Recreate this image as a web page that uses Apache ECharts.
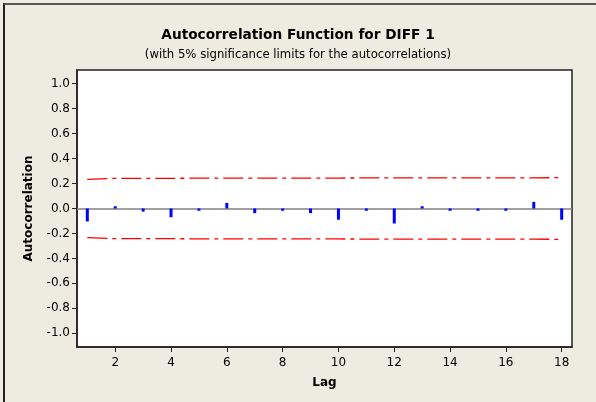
<!DOCTYPE html>
<html>
<head>
<meta charset="utf-8">
<script src="https://cdn.jsdelivr.net/npm/echarts@6/dist/echarts.min.js"></script>
<style>
  html, body { margin: 0; padding: 0; background: #eeebe1; overflow: hidden; }
  #frame {
    position: absolute; left: 3px; top: 3px; width: 610px; height: 410px;
    border-top: 2px solid #555; border-left: 2px solid #222; box-sizing: border-box;
  }
  #chart { position: absolute; left: 0; top: 0; width: 596px; height: 402px; }
</style>
</head>
<body>
<div id="frame"></div>
<div id="chart"></div>
<script>
// ACF values, lags 1..18
const lags = [1, 2, 3, 4, 5, 6, 7, 8, 9, 10, 11, 12, 13, 14, 15, 16, 17, 18];
const acf = [-0.104, 0.018, -0.025, -0.07, -0.018, 0.045, -0.037, -0.018, -0.037,
  -0.09, -0.018, -0.12, 0.018, -0.018, -0.018, -0.018, 0.053, -0.09];
const upperLimit = [0.234, 0.242, 0.242, 0.242, 0.243, 0.243, 0.244, 0.244, 0.244,
  0.244, 0.245, 0.245, 0.246, 0.246, 0.246, 0.246, 0.246, 0.247];
const lowerLimit = upperLimit.map(v => -v);
const xTicks = [2, 4, 6, 8, 10, 12, 14, 16, 18];
const yTicks = [-1.0, -0.8, -0.6, -0.4, -0.2, 0.0, 0.2, 0.4, 0.6, 0.8, 1.0];

const chart = echarts.init(document.getElementById('chart'));

const font = 'DejaVu Sans';
const limitStyle = {
  color: '#ff0000',
  width: 1.3,
  type: [20, 5, 4, 5]
};

const option = {
  animation: false,
  textStyle: { fontFamily: font },
  title: {
    text: 'Autocorrelation Function for DIFF 1',
    subtext: '(with 5% significance limits for the autocorrelations)',
    left: 'center',
    top: 23,
    itemGap: 7,
    textStyle: { fontFamily: font, fontSize: 13.7, fontWeight: 'bold', color: '#000' },
    subtextStyle: { fontFamily: font, fontSize: 11.7, color: '#000' }
  },
  grid: {
    left: 77, right: 24, top: 70, bottom: 55,
    show: true,
    backgroundColor: '#fff',
    borderColor: '#222',
    borderWidth: 1.5
  },
  xAxis: {
    type: 'value',
    min: 0.63,
    max: 18.37,
    name: 'Lag',
    nameLocation: 'middle',
    nameGap: 30,
    nameTextStyle: { fontFamily: font, fontSize: 12, fontWeight: 'bold', color: '#000' },
    axisLine: { show: true, onZero: false, lineStyle: { color: '#222', width: 1.5 } },
    axisTick: { show: true, length: 5, customValues: xTicks, lineStyle: { color: '#222' } },
    axisLabel: { customValues: xTicks, color: '#000', fontSize: 12, margin: 10 },
    splitLine: { show: false }
  },
  yAxis: {
    type: 'value',
    min: -1.11,
    max: 1.11,
    name: 'Autocorrelation',
    nameLocation: 'middle',
    nameGap: 42,
    nameTextStyle: { fontFamily: font, fontSize: 12, fontWeight: 'bold', color: '#000' },
    axisLine: { show: true, lineStyle: { color: '#222', width: 1.5 } },
    axisTick: { show: true, length: 5, customValues: yTicks, lineStyle: { color: '#222' } },
    axisLabel: {
      customValues: yTicks,
      color: '#000',
      fontSize: 12,
      margin: 7,
      formatter: v => v.toFixed(1)
    },
    splitLine: { show: false }
  },
  series: [
    {
      name: 'Upper',
      type: 'line',
      data: lags.map((l, i) => [l, upperLimit[i]]),
      symbol: 'none',
      lineStyle: limitStyle,
      z: 1,
      markLine: {
        silent: true,
        symbol: 'none',
        label: { show: false },
        lineStyle: { color: '#808080', width: 1.5, type: 'solid' },
        data: [{ yAxis: 0 }]
      }
    },
    {
      name: 'Lower',
      type: 'line',
      data: lags.map((l, i) => [l, lowerLimit[i]]),
      symbol: 'none',
      lineStyle: limitStyle,
      z: 1
    },
    {
      name: 'ACF',
      type: 'bar',
      barWidth: 3,
      data: lags.map((l, i) => [l, acf[i]]),
      itemStyle: { color: '#0000ff' },
      z: 5
    }
  ]
};

chart.setOption(option);
window.addEventListener('resize', () => chart.resize());
</script>
</body>
</html>
